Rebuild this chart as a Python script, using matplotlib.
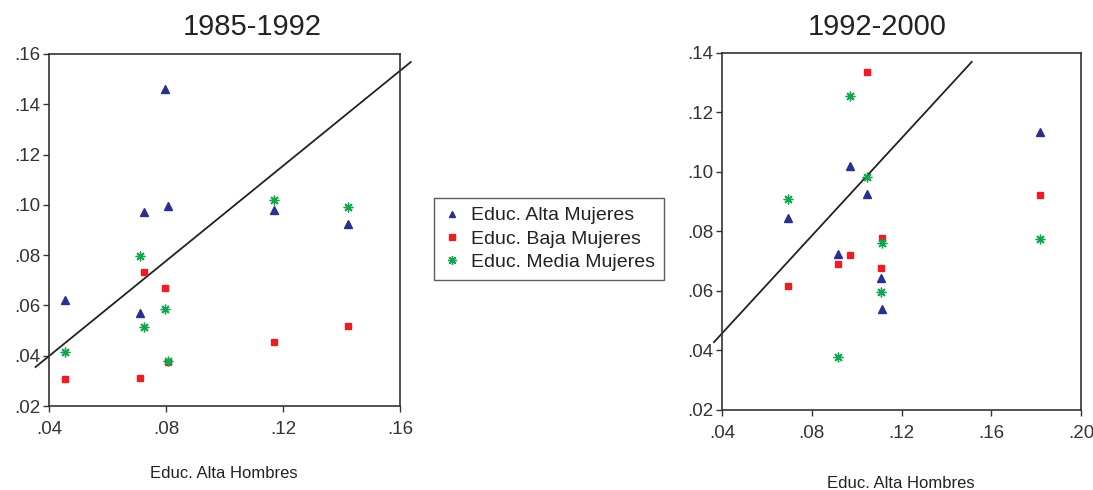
import matplotlib
matplotlib.use("Agg")
import matplotlib.pyplot as plt
from matplotlib.lines import Line2D

plt.rcParams['font.family'] = ['Liberation Sans', 'DejaVu Sans']

# ---- data: panel 1985-1992 ----
x1_alta = [0.0455, 0.0710, 0.0724, 0.0798, 0.0808, 0.1169, 0.1424]
alta1 = [0.0621, 0.0569, 0.0973, 0.1459, 0.0994, 0.0981, 0.0923]
x1_baja = [0.0455, 0.0710, 0.0724, 0.0798, 0.0808, 0.1169, 0.1424]
baja1 = [0.0306, 0.0310, 0.0733, 0.0668, 0.0374, 0.0455, 0.0517]
x1_media = [0.0455, 0.0710, 0.0724, 0.0798, 0.0808, 0.1169, 0.1424]
media1 = [0.0414, 0.0795, 0.0515, 0.0587, 0.0381, 0.1021, 0.0992]
line1_x = [0.0354, 0.1637]
line1_y = [0.0355, 0.1568]

# ---- data: panel 1992-2000 ----
x2_alta = [0.0696, 0.0918, 0.0970, 0.1047, 0.1108, 0.1111, 0.1817]
alta2 = [0.0844, 0.0724, 0.1020, 0.0926, 0.0644, 0.0538, 0.1135]
x2_baja = [0.0696, 0.0918, 0.0970, 0.1047, 0.1108, 0.1111, 0.1817]
baja2 = [0.0618, 0.0692, 0.0720, 0.1336, 0.0678, 0.0779, 0.0923]
x2_media = [0.0696, 0.0918, 0.0970, 0.1047, 0.1108, 0.1111, 0.1817]
media2 = [0.0910, 0.0378, 0.1256, 0.0984, 0.0598, 0.0761, 0.0776]
line2_x = [0.0364, 0.1513]
line2_y = [0.0428, 0.1370]

xticks1 = [0.04, 0.08, 0.12, 0.16]
xticklabels1 = ['.04', '.08', '.12', '.16']
yticks1 = [0.02, 0.04, 0.06, 0.08, 0.10, 0.12, 0.14, 0.16]
yticklabels1 = ['.02', '.04', '.06', '.08', '.10', '.12', '.14', '.16']
xticks2 = [0.04, 0.08, 0.12, 0.16, 0.20]
xticklabels2 = ['.04', '.08', '.12', '.16', '.20']
yticks2 = [0.02, 0.04, 0.06, 0.08, 0.10, 0.12, 0.14]
yticklabels2 = ['.02', '.04', '.06', '.08', '.10', '.12', '.14']

titles = ['1985-1992', '1992-2000']
xlabel = 'Educ. Alta Hombres'
series_names = ['Educ. Alta Mujeres', 'Educ. Baja Mujeres', 'Educ. Media Mujeres']

c_alta = '#2B2F8F'
c_baja = '#EE1C25'
c_media = '#13A64F'
spine_c = '#333333'
star = (8, 2, 0)

fig = plt.figure(figsize=(10.93, 4.90), dpi=100)
ax1 = fig.add_axes([0.0448, 0.1714, 0.3211, 0.7184])
ax2 = fig.add_axes([0.6606, 0.1633, 0.3284, 0.7286])


def draw(ax, xa, ya, xb, yb, xm, ym, lx, ly, xt, xtl, yt, ytl, xlim, ylim):
    ax.plot(lx, ly, color='#222222', lw=1.3, clip_on=False, zorder=2)
    ax.plot(xa, ya, ls='none', marker='^', ms=5.5, color=c_alta, mec=c_alta, zorder=3)
    ax.plot(xb, yb, ls='none', marker='s', ms=5, color=c_baja, mec=c_baja, zorder=3)
    ax.plot(xm, ym, ls='none', marker=star, ms=7, mew=1.0, color=c_media, zorder=4)
    ax.set_xlim(*xlim)
    ax.set_ylim(*ylim)
    ax.set_xticks(xt)
    ax.set_xticklabels(xtl)
    ax.set_yticks(yt)
    ax.set_yticklabels(ytl)
    ax.tick_params(direction='out', length=4, width=1, colors=spine_c, labelsize=13.5)
    ax.tick_params(axis='x', pad=7)
    ax.tick_params(axis='y', pad=2)
    for s in ax.spines.values():
        s.set_color(spine_c)
        s.set_linewidth(1.2)


draw(ax1, x1_alta, alta1, x1_baja, baja1, x1_media, media1, line1_x, line1_y,
     xticks1, xticklabels1, yticks1, yticklabels1, (0.04, 0.16), (0.02, 0.16))
draw(ax2, x2_alta, alta2, x2_baja, baja2, x2_media, media2, line2_x, line2_y,
     xticks2, xticklabels2, yticks2, yticklabels2, (0.04, 0.20), (0.02, 0.14))

fig.text(252 / 1093, 1 - 27 / 490, titles[0], ha='center', va='center', fontsize=21, color='#222222')
fig.text(877 / 1093, 1 - 27 / 490, titles[1], ha='center', va='center', fontsize=21, color='#222222')
fig.text(224 / 1093, 1 - 473 / 490, xlabel, ha='center', va='center', fontsize=12, color='#222222')
fig.text(901 / 1093, 1 - 483 / 490, xlabel, ha='center', va='center', fontsize=12, color='#222222')

handles = [
    Line2D([], [], ls='none', marker='^', ms=5, color=c_alta),
    Line2D([], [], ls='none', marker='s', ms=4.5, color=c_baja),
    Line2D([], [], ls='none', marker=star, ms=6.5, mew=1.0, color=c_media),
]
leg = fig.legend(handles, series_names, loc='upper left',
                 bbox_to_anchor=(434 / 1093, 1 - 198 / 490), fontsize=14,
                 frameon=True, fancybox=False, borderpad=0.45, handlelength=0.9,
                 handletextpad=0.55, labelspacing=0.3, borderaxespad=0)
leg.get_frame().set_edgecolor('#333333')
leg.get_frame().set_linewidth(1.0)
for t in leg.get_texts():
    t.set_color('#222222')

fig.savefig('out.png', dpi=100)
